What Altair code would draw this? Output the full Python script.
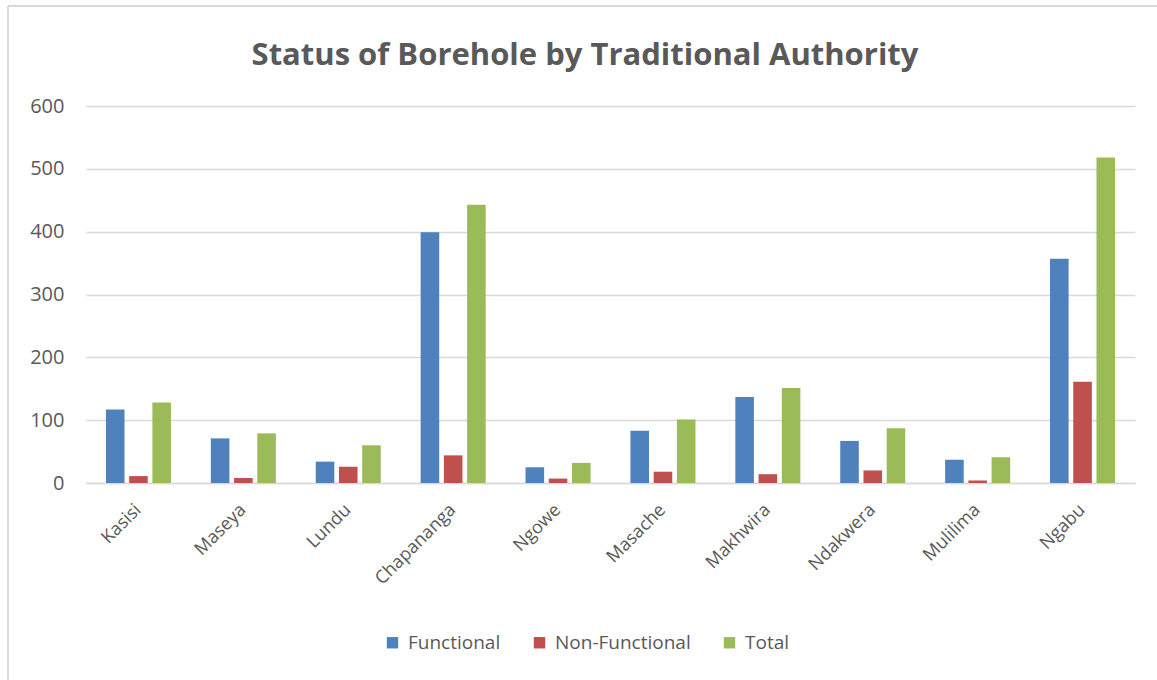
import altair as alt
import pandas as pd

categories = ["Kasisi", "Maseya", "Lundu", "Chapananga", "Ngowe",
              "Masache", "Makhwira", "Ndakwera", "Mulilima", "Ngabu"]
functional = [117, 71, 34, 399, 25, 83, 137, 67, 37, 357]
non_functional = [11, 8, 26, 44, 7, 18, 14, 20, 4, 161]
total = [128, 79, 60, 443, 32, 101, 151, 87, 41, 518]
series = ["Functional", "Non-Functional", "Total"]
colors = ["#4F81BD", "#C0504D", "#9BBB59"]
y_ticks = [0, 100, 200, 300, 400, 500, 600]
title_text = "Status of Borehole by Traditional Authority"

rows = []
for name, vals in zip(series, [functional, non_functional, total]):
    for c, v in zip(categories, vals):
        rows.append({"Authority": c, "Status": name, "Count": v})
df = pd.DataFrame(rows)

FONT = "Open Sans"
TXT = "#595959"
GRID = "#d9d9d9"

bars = alt.Chart(df).mark_bar().encode(
    x=alt.X("Authority:N", sort=categories, title=None,
            scale=alt.Scale(paddingInner=0.38, paddingOuter=0.19),
            axis=alt.Axis(labelAngle=-45, labelAlign="right", labelBaseline="middle",
                          labelPadding=24, ticks=False, domainColor=GRID,
                          domainWidth=1.5, labelColor=TXT, labelFontSize=18,
                          labelFont=FONT)),
    xOffset=alt.XOffset("Status:N", sort=series,
                        scale=alt.Scale(paddingInner=0.2, paddingOuter=0)),
    y=alt.Y("Count:Q", title=None,
            scale=alt.Scale(domain=[0, 600], nice=False),
            axis=alt.Axis(values=y_ticks, ticks=False, domain=False,
                          gridColor=GRID, gridWidth=1.5, labelPadding=22,
                          labelColor=TXT, labelFontSize=20, labelFont=FONT)),
    color=alt.Color("Status:N", sort=series,
                    scale=alt.Scale(domain=series, range=colors),
                    legend=alt.Legend(title=None, orient="none", direction="horizontal",
                                      legendX=297, legendY=527,
                                      symbolType="square", symbolSize=130,
                                      symbolStrokeWidth=0, labelFontSize=19,
                                      labelFont=FONT, labelColor=TXT,
                                      columnPadding=29, labelOffset=6)),
)

one = alt.Data(values=[{"t": title_text}])
top_border = alt.Chart(one).mark_rule(color=GRID, strokeWidth=2).encode(
    x=alt.value(-78), x2=alt.value(1080), y=alt.value(-100))
left_border = alt.Chart(one).mark_rule(color=GRID, strokeWidth=2).encode(
    x=alt.value(-78), y=alt.value(-100), y2=alt.value(600))
title = alt.Chart(one).mark_text(font=FONT, fontSize=31, fontWeight="bold",
                                 color=TXT, align="center",
                                 baseline="alphabetic").encode(
    text="t:N", x=alt.value(499), y=alt.value(-41))

chart = alt.layer(top_border, left_border, title, bars).properties(
    width=1049, height=377,
    padding={"left": 86, "top": 106, "right": 22, "bottom": 197},
    autosize=alt.AutoSizeParams(type="none"),
    background="white",
).configure_view(stroke=None)

chart.save("out.html", embed_options={"renderer": "svg", "actions": False})
